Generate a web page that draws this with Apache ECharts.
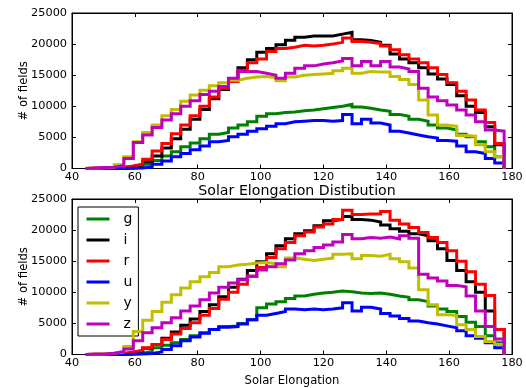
<!DOCTYPE html>
<html><head><meta charset="utf-8">
<script src="https://cdn.jsdelivr.net/npm/echarts@6/dist/echarts.min.js"></script>
<style>html,body{margin:0;padding:0;background:#fff;}#c{width:526px;height:388px;}</style>
</head><body><div id="c"></div>
<script>
// ---- data ----
const binEdges = [44.4,47.4,50.4,53.4,56.5,59.5,62.5,65.5,68.6,71.6,74.6,77.6,80.7,83.7,86.7,89.8,92.8,95.8,98.8,101.9,104.9,107.9,110.9,114.0,117.0,120.0,123.0,126.1,129.1,132.1,135.1,138.2,141.2,144.2,147.2,150.3,153.3,156.3,159.3,162.4,165.4,168.4,171.5,174.5,177.5];
const bandNames = ['g','i','r','u','y','z'];
const xTicks = [40,60,80,100,120,140,160,180];
const yTicks = [0,5000,10000,15000,20000,25000];
const titleText = 'Solar Elongation Distibution';
const xLabel = 'Solar Elongation';
const yLabel = '# of fields';

// top panel
const topG = [0,0,0,20,60,200,700,1300,2000,2700,3500,4100,4800,5500,5800,6500,7000,7500,8400,8800,9000,9100,9300,9400,9600,9800,10000,10300,9900,9700,9400,9200,8700,8400,7900,7600,7000,6500,6200,5500,5100,4300,3500,1900];
const topI = [30,50,80,150,350,600,1100,2000,3300,4800,6300,7900,9500,11200,12700,14200,16200,17500,18700,19300,19900,20600,21100,21300,21300,21300,21600,21900,20700,20600,20300,19800,18400,17600,17000,16200,15200,14400,13500,11700,10000,9000,6700,3800];
const topR = [30,50,80,150,400,700,1500,2800,4000,5600,7000,8500,10000,11500,12900,14000,15800,17000,17600,18800,19300,19500,19800,19700,19800,20000,20300,21000,20400,20300,20100,19700,19100,18300,17600,17000,16200,15100,13800,12400,11000,9400,7400,4000];
const topU = [0,0,0,10,30,80,250,700,1200,1900,2400,3000,3600,4300,4500,5100,5500,6000,6400,6800,7200,7500,7600,7700,7700,7600,7700,8700,7200,7900,7300,7000,6000,5700,5400,5100,4900,4500,4400,3600,2700,2400,1600,900];
const topY = [80,120,200,600,1900,4300,5800,7000,8500,9500,10800,11800,12600,13300,13800,14200,14500,14700,14800,14600,14100,14700,15000,15100,15200,15300,15700,16100,15300,15600,15500,15500,14800,14300,13500,11000,8600,7000,6800,5300,5200,3800,2700,1900];
const topZ = [80,150,200,500,1600,4200,5400,6600,7800,8800,10000,10900,11900,12400,13200,14500,15600,15600,15300,15000,14500,15300,16100,16500,16800,17000,17300,17700,16500,17200,16500,17200,16300,16000,15600,12900,11500,10900,10200,9400,8600,7500,6200,6000];

// bottom panel
const botG = [0,0,0,20,80,200,500,1100,1500,1900,2400,3000,3500,4000,4500,4600,5000,5600,7500,8100,8500,9000,9400,9700,9900,10000,10200,10100,9900,9800,9900,9700,9400,9200,8800,8500,7800,7300,6900,6100,5200,4500,3000,1900];
const botI = [30,50,80,150,300,550,1000,1600,2600,3600,4700,5700,6900,8000,9300,10800,12100,13500,14900,16200,17500,18600,19400,19900,20700,21500,21700,22200,21700,21600,21300,20800,20200,19800,19400,19100,18300,17000,15100,13500,11700,10000,7000,4000];
const botR = [30,50,80,150,400,700,1100,1600,2400,3300,4200,5100,6300,7400,8900,10000,11300,12600,14000,15600,17000,18000,19100,19700,20500,21000,21700,23200,22500,22600,22600,23000,21600,21000,20400,19600,18800,18000,16700,15000,13300,11300,9500,4000];
const botU = [0,0,0,10,30,80,150,400,800,1400,2200,2800,3400,4000,4400,4500,4900,5600,6300,6600,6900,7300,7200,7300,7200,7300,7500,8300,7000,7600,7300,6600,6200,5800,5400,5100,4900,4600,4300,3800,3000,2600,1900,1100];
const botY = [50,100,200,400,1300,3700,5500,6900,8400,9600,10700,11700,12500,13200,14100,14400,14500,14700,14800,14600,14100,15500,15300,15100,15300,15500,16100,16200,15400,15900,15800,16100,15400,14900,13900,10400,8000,6400,6300,4800,4000,2900,2100,1600];
const botZ = [50,100,200,500,900,2200,3500,4300,5100,5900,7000,7800,8800,9900,10800,11500,12000,12600,13600,14100,14600,15200,16200,16700,17200,17600,18100,19300,18600,18800,18700,18900,18600,19100,18700,12900,12300,11800,11100,10900,9400,7000,4500,2500];

const topData = [topG, topI, topR, topU, topY, topZ];
const botData = [botG, botI, botR, botU, botY, botZ];

// ---- styling ----
const colors = ['#008000', '#000000', '#ff0000', '#0000ff', '#bfbf00', '#bf00bf'];
const FF = 'DejaVu Sans';

function stepData(vals) {
  const d = [[binEdges[0], 0]];
  for (let i = 0; i < vals.length; i++) {
    d.push([binEdges[i], vals[i]]);
    d.push([binEdges[i + 1], vals[i]]);
  }
  d.push([binEdges[vals.length], 0]);
  return d;
}

const grids = [
  {left: 72, top: 13, width: 440, height: 155.5, show: true, borderColor: '#000', borderWidth: 1},
  {left: 72, top: 199, width: 440, height: 155.5, show: true, borderColor: '#000', borderWidth: 1}
];

function xAx(gi, pos, showLabel, name) {
  return {
    type: 'value', gridIndex: gi, position: pos,
    min: xTicks[0], max: xTicks[xTicks.length - 1], interval: xTicks[1] - xTicks[0],
    axisLine: {show: true, onZero: false, lineStyle: {color: '#000', width: 1}},
    axisTick: {show: true, inside: true, length: 4, lineStyle: {color: '#000', width: 1}},
    splitLine: {show: false},
    axisLabel: {show: showLabel, color: '#000', fontFamily: FF, fontSize: 11.3, margin: 3, formatter: v => String(v)},
    name: name || '', nameLocation: 'middle', nameGap: 20, nameMoveOverlap: false,
    nameTextStyle: {color: '#000', fontFamily: FF, fontSize: 11.6}
  };
}
function yAx(gi, pos, showLabel, name) {
  return {
    type: 'value', gridIndex: gi, position: pos,
    min: yTicks[0], max: yTicks[yTicks.length - 1], interval: yTicks[1] - yTicks[0],
    axisLine: {show: true, onZero: false, lineStyle: {color: '#000', width: 1}},
    axisTick: {show: true, inside: true, length: 4, lineStyle: {color: '#000', width: 1}},
    splitLine: {show: false},
    axisLabel: {show: showLabel, color: '#000', fontFamily: FF, fontSize: 11.3, margin: 5, formatter: v => String(v)},
    name: name || '', nameLocation: 'middle', nameGap: 42, nameMoveOverlap: false,
    nameTextStyle: {color: '#000', fontFamily: FF, fontSize: 11.6}
  };
}

const series = [];
[topData, botData].forEach((panel, p) => {
  panel.forEach((vals, k) => {
    series.push({
      name: bandNames[k], type: 'line',
      xAxisIndex: p * 2, yAxisIndex: p * 2,
      data: stepData(vals),
      symbol: 'none', showSymbol: false,
      color: colors[k],
      itemStyle: {color: colors[k]},
      lineStyle: {color: colors[k], width: 3, join: 'miter', cap: 'butt'},
      emphasis: {disabled: true},
      animation: false,
      z: 2 + k
    });
  });
});

const chart = echarts.init(document.getElementById('c'), null, {renderer: 'canvas'});
chart.setOption({
  backgroundColor: '#fff',
  animation: false,
  title: {
    text: titleText, left: 292, top: 179, textAlign: 'center',
    textStyle: {color: '#000', fontFamily: FF, fontSize: 14.2, fontWeight: 'normal'}
  },
  legend: {
    data: bandNames, orient: 'vertical', left: 78, top: 207,
    backgroundColor: '#fff', borderColor: '#000', borderWidth: 1, borderRadius: 0,
    padding: [5, 6, 5, 8.5],
    itemWidth: 23, itemHeight: 3, itemGap: 7, icon: 'rect',
    selectedMode: false,
    textStyle: {color: '#000', fontFamily: FF, fontSize: 14, lineHeight: 14, padding: [0, 0, 0, 9]}
  },
  grid: grids,
  xAxis: [xAx(0, 'bottom', true), xAx(0, 'top', false), xAx(1, 'bottom', true, xLabel), xAx(1, 'top', false)],
  yAxis: [yAx(0, 'left', true, yLabel), yAx(0, 'right', false), yAx(1, 'left', true, yLabel), yAx(1, 'right', false)],
  series: series
});
</script>
</body></html>
